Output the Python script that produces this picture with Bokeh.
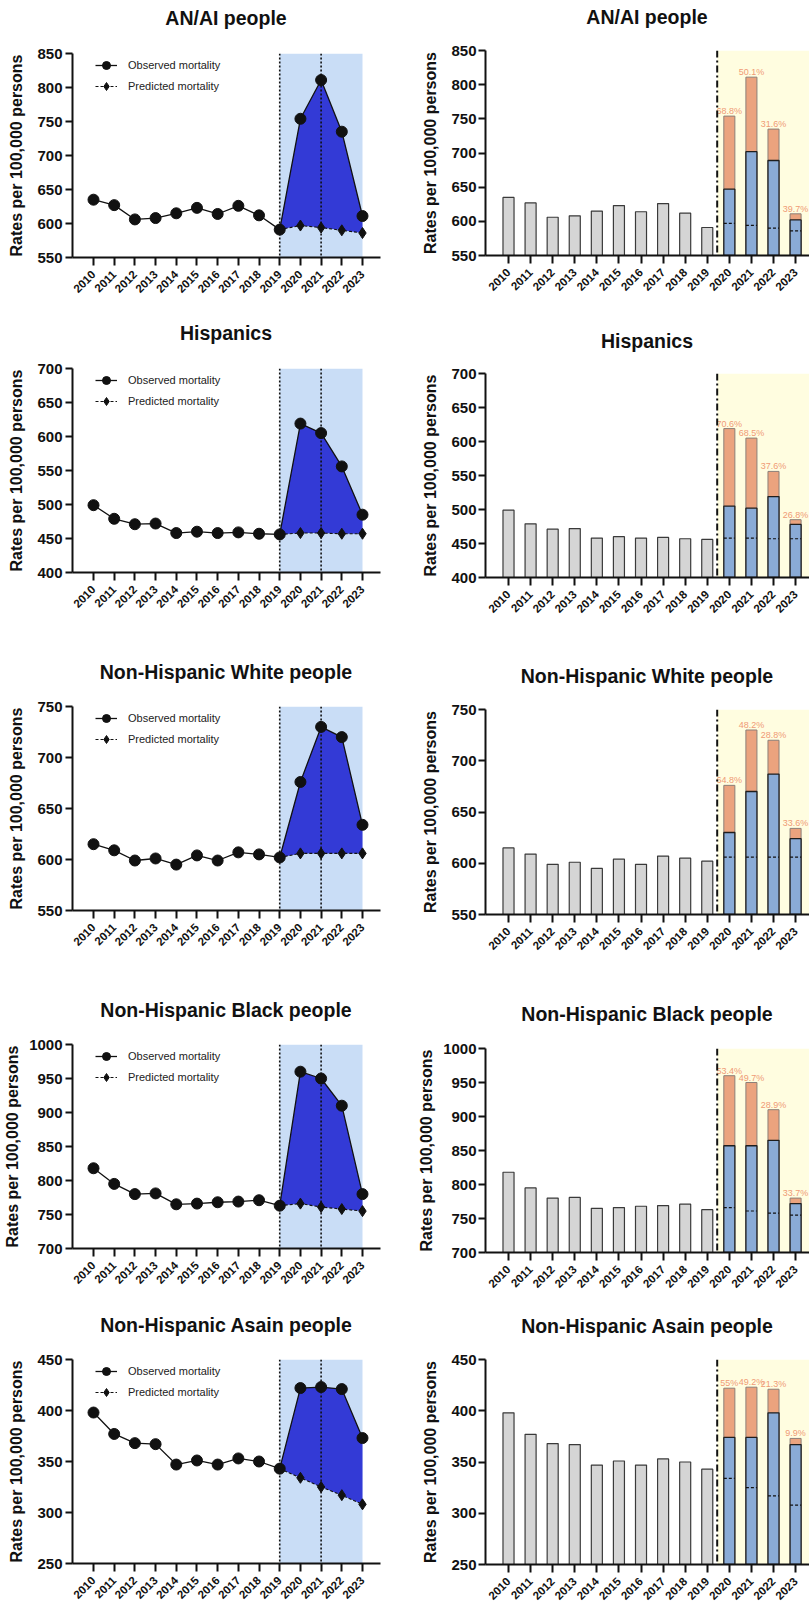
import math
from bokeh.plotting import figure
from bokeh.layouts import column, row
from bokeh.models import BoxAnnotation, Span, Legend, LegendItem, Range1d, FixedTicker, Div
from bokeh.core.properties import value
from bokeh.embed import file_html
from bokeh.resources import INLINE

FONT = "Liberation Sans"

years = [2010, 2011, 2012, 2013, 2014, 2015, 2016, 2017, 2018, 2019, 2020, 2021, 2022, 2023]
titles = ["AN/AI people", "Hispanics", "Non-Hispanic White people",
          "Non-Hispanic Black people", "Non-Hispanic Asain people"]
y_label = "Rates per 100,000 persons"

# observed mortality 2010-2023
anai_obs = [635, 627, 606, 608, 615, 623, 614, 626, 612, 591, 754, 811, 735, 611]
hisp_obs = [499, 479, 471, 472, 458, 460, 458, 459, 457, 456, 619, 605, 556, 485]
white_obs = [615, 609, 599, 601, 595, 604, 599, 607, 605, 602, 676, 730, 720, 634]
black_obs = [818, 795, 780, 781, 765, 766, 768, 769, 771, 763, 960, 950, 910, 780]
asian_obs = [398, 377, 368, 367, 347, 351, 347, 353, 350, 343, 422, 423, 421, 373]

# predicted mortality 2019-2023
anai_pred = [591, 597, 594, 590, 586]
hisp_pred = [456, 458, 458, 457, 457]
white_pred = [602, 606, 606, 606, 606]
black_pred = [763, 766, 761, 758, 755]
asian_pred = [343, 334, 325, 317, 308]

# blue bar level 2020-2023
anai_blue = [647, 702, 689, 602]
hisp_blue = [505, 502, 519, 478]
white_blue = [630, 670, 687, 624]
black_blue = [857, 857, 865, 772]
asian_blue = [374, 374, 398, 367]

# percentage labels 2020-2023
anai_pct = ["68.8%", "50.1%", "31.6%", "39.7%"]
hisp_pct = ["70.6%", "68.5%", "37.6%", "26.8%"]
white_pct = ["64.8%", "48.2%", "28.8%", "33.6%"]
black_pct = ["53.4%", "49.7%", "28.9%", "33.7%"]
asian_pct = ["55%", "49.2%", "21.3%", "9.9%"]

# y axis ticks
anai_ticks = [550, 600, 650, 700, 750, 800, 850]
hisp_ticks = [400, 450, 500, 550, 600, 650, 700]
white_ticks = [550, 600, 650, 700, 750]
black_ticks = [700, 750, 800, 850, 900, 950, 1000]
asian_ticks = [250, 300, 350, 400, 450]

TITLE_H = 30


def style(p, yticks, ylab_std, ytick_std, ytick_out):
    p.xgrid.visible = False
    p.ygrid.visible = False
    p.outline_line_color = None
    p.background_fill_color = "white"
    p.xaxis.ticker = FixedTicker(ticks=years)
    p.yaxis.ticker = FixedTicker(ticks=yticks)
    p.xaxis.major_label_orientation = math.pi / 4
    for ax in p.axis:
        ax.axis_line_width = 2
        ax.axis_line_color = "#111111"
        ax.major_tick_line_width = 2
        ax.major_tick_line_color = "#111111"
        ax.major_tick_in = 0
        ax.minor_tick_line_color = None
        ax.major_label_text_font = FONT
        ax.major_label_text_font_style = "bold"
        ax.major_label_text_color = "#111111"
    p.xaxis.major_tick_out = 8
    p.xaxis.major_label_standoff = 7
    p.xaxis.major_label_text_font_size = "11.5px"
    p.yaxis.major_tick_out = ytick_out
    p.yaxis.major_label_standoff = ytick_std
    p.yaxis.major_label_text_font_size = "15px"
    p.yaxis.axis_label = y_label
    p.yaxis.axis_label_text_font = FONT
    p.yaxis.axis_label_text_font_style = "bold"
    p.yaxis.axis_label_text_font_size = "16px"
    p.yaxis.axis_label_text_color = "#111111"
    p.yaxis.axis_label_standoff = ylab_std


def title_div(text, left, frame_w, right, mtop):
    return Div(text=text, width=frame_w, height=TITLE_H, margin=(mtop, right, 0, left),
               styles={"font-family": FONT, "font-weight": "bold", "font-size": "19.5px",
                       "text-align": "center", "line-height": f"{TITLE_H}px",
                       "color": "#111111", "white-space": "nowrap"})


def left_panel(title, obs, pred, yticks, row_h, c, f, bottom, ylab_std):
    mtop = c - TITLE_H // 2
    top = f - c - TITLE_H // 2
    height = row_h - mtop - TITLE_H
    p = figure(width=408, height=height,
               x_range=Range1d(2008.985, 2023.87), y_range=Range1d(yticks[0], yticks[-1]),
               output_backend="svg", toolbar_location=None,
               min_border_left=72, min_border_right=28,
               min_border_top=top, min_border_bottom=bottom)
    style(p, yticks, ylab_std, 3, 7)
    p.add_layout(BoxAnnotation(left=years[9], right=years[-1], fill_color="#C9DDF6",
                               fill_alpha=1, line_alpha=0, level="underlay"))
    p.varea(x=years[9:], y1=pred, y2=obs[9:], fill_color="#333AD6")
    for loc in (years[9], years[11]):
        p.add_layout(Span(location=loc, dimension="height", line_color="#111111",
                          line_width=1.6, line_dash="2 2"))
    pl = p.line(years[9:], pred, line_color="#111111", line_width=1.1, line_dash="3 2")
    pm = p.scatter(years[9:], pred, marker="diamond", size=11, fill_color="#111111",
                   line_color="#111111")
    ol = p.line(years, obs, line_color="#111111", line_width=1.3)
    om = p.scatter(years, obs, marker="circle", size=11, fill_color="#111111",
                   line_color="#111111")
    legend = Legend(items=[LegendItem(label="Observed mortality", renderers=[ol, om]),
                           LegendItem(label="Predicted mortality", renderers=[pl, pm])],
                    location=(23, 161), margin=0, padding=0, spacing=1,
                    glyph_width=22, glyph_height=20, label_height=20, label_standoff=11,
                    label_text_font=FONT, label_text_font_size="11px",
                    label_text_color="#222222",
                    background_fill_alpha=0, border_line_alpha=0)
    p.add_layout(legend)
    d = title_div(title, 72, 408 - 72 - 28, 28, mtop)
    return column(d, p, spacing=0)


def right_panel(title, obs, pred, blue, pct, yticks, row_h, c, f, bottom, ylab_std):
    mtop = c - TITLE_H // 2
    top = f - c - TITLE_H // 2
    height = row_h - mtop - TITLE_H
    p = figure(width=401, height=height,
               x_range=Range1d(2008.958, 2023.63), y_range=Range1d(yticks[0], yticks[-1]),
               output_backend="svg", toolbar_location=None,
               min_border_left=77, min_border_right=0,
               min_border_top=top, min_border_bottom=bottom)
    style(p, yticks, ylab_std, 2, 7)
    cut = years[9] + 0.45
    p.add_layout(BoxAnnotation(left=cut, fill_color="#FFFDE0", fill_alpha=1,
                               line_alpha=0, level="underlay"))
    base = yticks[0]
    p.vbar(x=years[:10], top=obs[:10], bottom=base, width=0.5, fill_color="#D5D5D5",
           line_color="#3a3a3a", line_width=1.2)
    p.vbar(x=years[10:], top=obs[10:], bottom=base, width=0.5, fill_color="#EBA37E",
           line_color="#8c7f78", line_width=1)
    p.vbar(x=years[10:], top=blue, bottom=base, width=0.5, fill_color="#8AABD6",
           line_color="#1e1e1e", line_width=1.3)
    half = 0.25
    p.segment(x0=[y - half for y in years[10:]], x1=[y + half for y in years[10:]],
              y0=pred[1:], y1=pred[1:], line_color="#111111", line_width=1.2,
              line_dash="3 2")
    p.text(x=years[10:], y=obs[10:], text=pct, text_align="center",
           text_baseline="bottom", text_font=value(FONT), text_font_size="9px",
           text_color="#EF9B76")
    p.add_layout(Span(location=cut, dimension="height", line_color="#111111",
                      line_width=2, line_dash="7 3 2 3"))
    d = title_div(title, 77, 401 - 77, 0, mtop)
    return column(d, p, spacing=0)


obs_all = [anai_obs, hisp_obs, white_obs, black_obs, asian_obs]
pred_all = [anai_pred, hisp_pred, white_pred, black_pred, asian_pred]
blue_all = [anai_blue, hisp_blue, white_blue, black_blue, asian_blue]
pct_all = [anai_pct, hisp_pct, white_pct, black_pct, asian_pct]
ticks_all = [anai_ticks, hisp_ticks, white_ticks, black_ticks, asian_ticks]

row_heights = [305, 335, 350, 304, 313]
# (title centre, frame top, bottom border) relative to each row top
left_geo = [(18, 53, 48), (28, 63, 68), (32, 66, 80), (20, 54, 46), (31, 65, 44)]
right_geo = [(17, 50, 50), (36, 68, 63), (36, 69, 76), (24, 58, 42), (32, 65, 43)]
ylab_std = [9, 9, 9, 5, 9]

rows = []
for i in range(5):
    lc, lf, lb = left_geo[i]
    rc, rf, rb = right_geo[i]
    lp = left_panel(titles[i], obs_all[i], pred_all[i], ticks_all[i], row_heights[i],
                    lc, lf, lb, ylab_std[i])
    rp = right_panel(titles[i], obs_all[i], pred_all[i], blue_all[i], pct_all[i],
                     ticks_all[i], row_heights[i], rc, rf, rb, ylab_std[i])
    rows.append(row(lp, rp, spacing=0))

layout = column(*rows, spacing=0)
open("out.html", "w").write(file_html(layout, INLINE))
